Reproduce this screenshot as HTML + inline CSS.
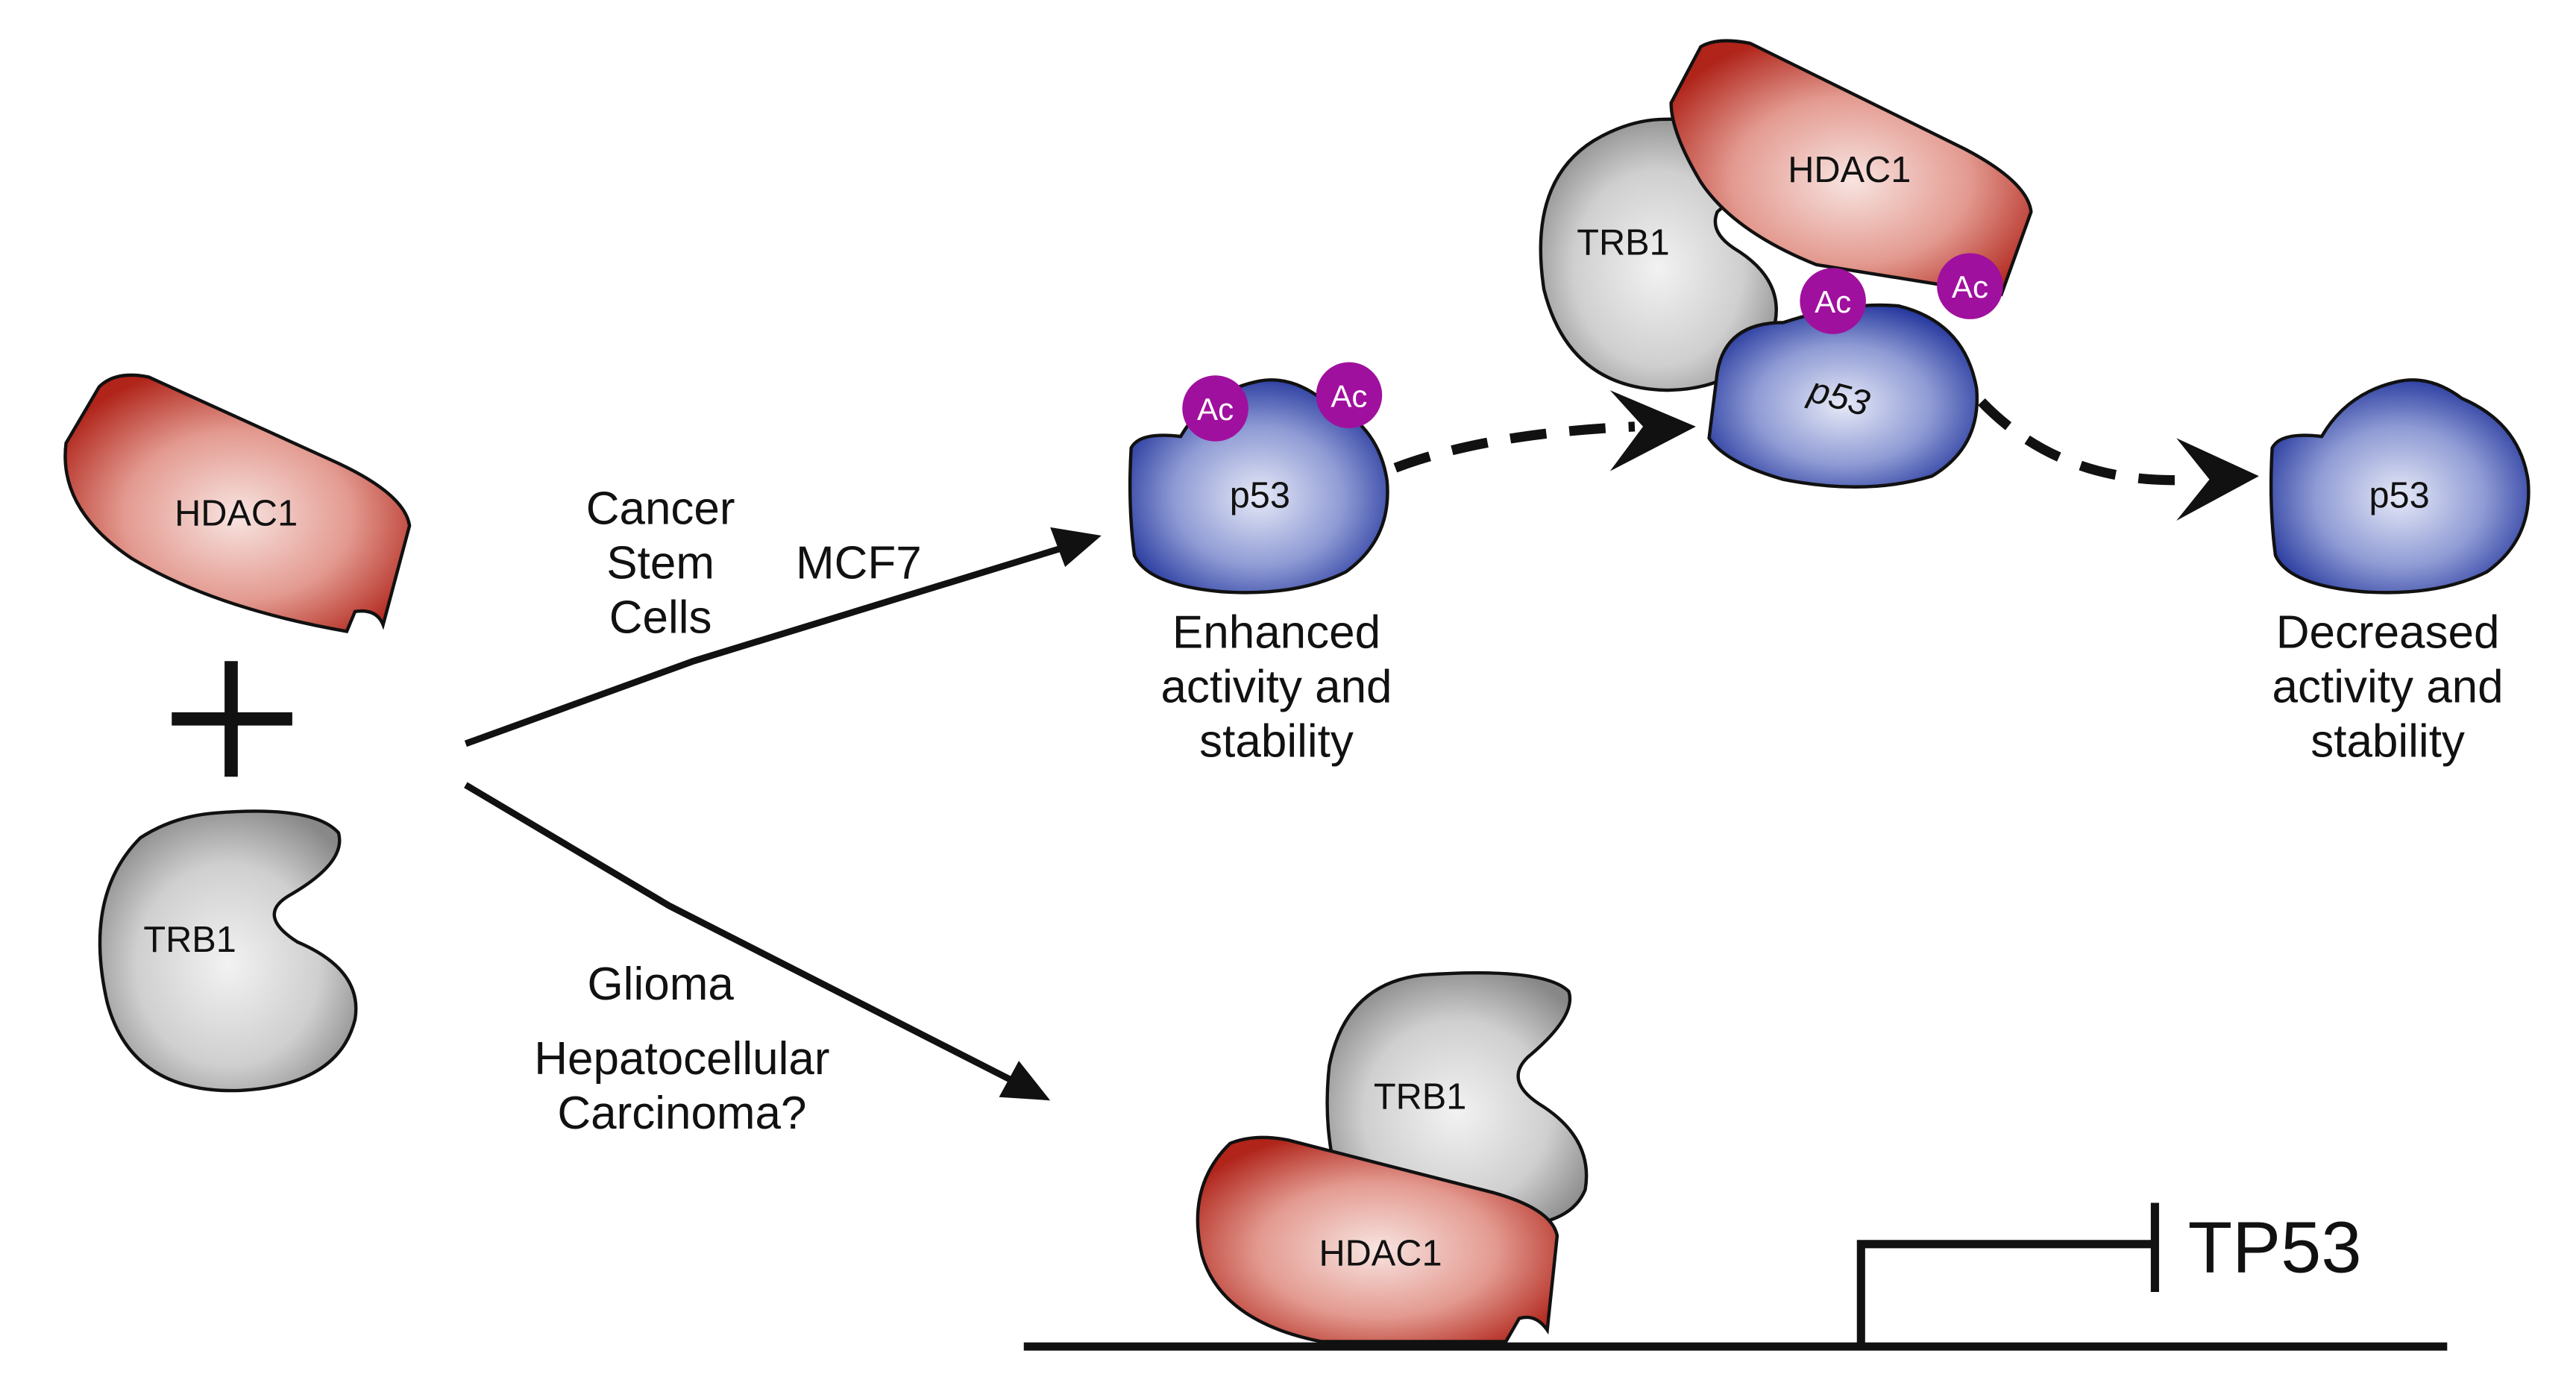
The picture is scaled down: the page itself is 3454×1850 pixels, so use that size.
<!DOCTYPE html>
<html><head><meta charset="utf-8"><style>html,body{margin:0;padding:0;background:#fff}svg{display:block}text{font-family:"Liberation Sans",sans-serif;fill:#111}</style></head>
<body>
<svg width="3454" height="1850" viewBox="0 0 1560 835" xmlns="http://www.w3.org/2000/svg">
<defs>
<radialGradient id="r" cx="50%" cy="55%" r="60%"><stop offset="0" stop-color="#f8e4e1"/><stop offset="0.55" stop-color="#e39a90"/><stop offset="1" stop-color="#b0241a"/></radialGradient>
<radialGradient id="b" cx="50%" cy="55%" r="60%"><stop offset="0" stop-color="#e6e9f7"/><stop offset="0.55" stop-color="#8e9ad4"/><stop offset="1" stop-color="#1b2e98"/></radialGradient>
<radialGradient id="g" cx="50%" cy="55%" r="60%"><stop offset="0" stop-color="#f2f2f2"/><stop offset="0.6" stop-color="#cfcfcf"/><stop offset="1" stop-color="#888"/></radialGradient>
<g id="hd"><path d="M20,8 Q30,-2 50,2 L160,52 Q205,72 208,92 L192,152 Q188,142 175,144 L170,156 Q90,142 40,112 Q-5,82 0,42 Z" fill="url(#r)" stroke="#111" stroke-width="2"/></g>
<g id="tr"><path d="M70,0 Q130,-5 145,12 Q150,30 115,50 Q95,62 120,78 Q160,95 155,125 Q145,165 85,168 Q20,170 5,115 Q-10,50 25,15 Q45,2 70,0 Z" fill="url(#g)" stroke="#111" stroke-width="2"/></g>
<g id="p"><path d="M0,45 Q5,35 30,38 Q45,12 75,5 Q95,0 115,15 Q150,30 155,65 Q158,100 130,120 Q100,135 55,132 Q10,128 2,110 Q-2,80 0,45 Z" fill="url(#b)" stroke="#111" stroke-width="2"/></g>
<g id="ac"><circle r="20" fill="#a0109e"/><text y="7" text-anchor="middle" font-size="19" style="fill:#fff">Ac</text></g>
</defs>

<!-- left -->
<use href="#hd" x="40" y="226"/>
<text x="143" y="318" font-size="22" text-anchor="middle">HDAC1</text>
<path d="M140,400V470M104,435H177" stroke="#111" stroke-width="8"/>
<use href="#tr" x="60" y="492"/>
<text x="115" y="576" font-size="22" text-anchor="middle">TRB1</text>

<!-- arrows -->
<path d="M282,450 L420,400 L645,331" fill="none" stroke="#111" stroke-width="4"/>
<path d="M667,324 L636,319 L645,343 Z" fill="#111"/>
<path d="M282,475 L405,548 L615,655" fill="none" stroke="#111" stroke-width="4"/>
<path d="M636,666 L605,664 L617,642 Z" fill="#111"/>

<g font-size="28" text-anchor="middle">
<text x="400" y="317">Cancer</text><text x="400" y="350">Stem</text><text x="400" y="383">Cells</text>
<text x="520" y="350">MCF7</text>
<text x="400" y="605">Glioma</text>
<text x="413" y="650">Hepatocellular</text><text x="413" y="683">Carcinoma?</text>
<text x="773" y="392">Enhanced</text><text x="773" y="425">activity and</text><text x="773" y="458">stability</text>
<text x="1446" y="392">Decreased</text><text x="1446" y="425">activity and</text><text x="1446" y="458">stability</text>
</g>

<!-- p53 left -->
<use href="#p" x="685" y="226"/>
<text x="763" y="307" font-size="22" text-anchor="middle">p53</text>
<use href="#ac" x="736" y="247"/><use href="#ac" x="817" y="239"/>

<!-- dashed arrows -->
<path d="M845,283 Q900,262 990,258" fill="none" stroke="#111" stroke-width="6" stroke-dasharray="22,14"/>
<path d="M1027,258 L975,236 L995,258 L975,285 Z" fill="#111"/>
<path d="M1200,243 Q1250,295 1330,290" fill="none" stroke="#111" stroke-width="6" stroke-dasharray="22,14"/>
<path d="M1368,288 L1318,265 L1338,290 L1318,315 Z" fill="#111"/>

<!-- complex -->
<path d="M1005,72 Q1060,70 1072,100 L1040,128 Q1035,140 1050,150 Q1080,168 1075,195 Q1060,235 1010,236 Q950,235 935,175 Q925,110 965,85 Q985,73 1005,72 Z" fill="url(#g)" stroke="#111" stroke-width="2"/>
<text x="983" y="154" font-size="22" text-anchor="middle">TRB1</text>
<path d="M1030,28 Q1040,22 1060,26 L1190,90 Q1228,110 1230,128 L1212,178 L1100,160 Q1050,140 1030,110 Q1012,80 1012,62 Z" fill="url(#r)" stroke="#111" stroke-width="2"/>
<text x="1120" y="110" font-size="22" text-anchor="middle">HDAC1</text>
<path d="M1040,225 Q1045,195 1080,195 Q1120,182 1150,185 Q1190,195 1197,235 Q1200,270 1170,288 Q1130,300 1080,290 Q1045,280 1035,265 Z" fill="url(#b)" stroke="#111" stroke-width="2"/>
<text x="1112" y="247" font-size="22" text-anchor="middle" transform="rotate(15 1112 247)" font-style="italic">p53</text>
<use href="#ac" x="1110" y="182"/><use href="#ac" x="1193" y="173"/>

<!-- p53 right -->
<use href="#p" x="1376" y="226"/>
<text x="1453" y="307" font-size="22" text-anchor="middle">p53</text>

<!-- bottom -->
<path d="M862,590 Q935,585 950,600 Q955,615 925,640 Q910,655 935,670 Q965,690 960,720 Q950,745 900,742 L815,730 Q800,690 805,645 Q815,595 862,590 Z" fill="url(#g)" stroke="#111" stroke-width="2"/>
<text x="860" y="671" font-size="22" text-anchor="middle">TRB1</text>
<path d="M745,692 Q760,686 780,690 L905,722 Q940,732 943,748 L937,805 Q930,795 920,798 L912,812 L800,812 Q740,800 728,760 Q718,718 745,692 Z" fill="url(#r)" stroke="#111" stroke-width="2"/>
<text x="836" y="766" font-size="22" text-anchor="middle">HDAC1</text>
<path d="M620,815H1482" stroke="#111" stroke-width="5"/>
<path d="M1127,815V753H1305M1305,728V782" fill="none" stroke="#111" stroke-width="5"/>
<text x="1325" y="770" font-size="44">TP53</text>
</svg>
</body></html>
